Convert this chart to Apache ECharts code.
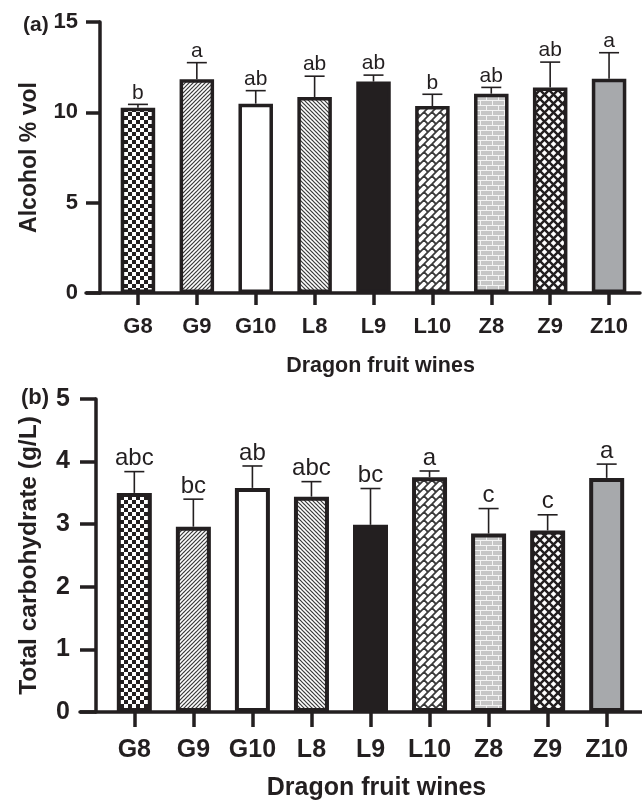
<!DOCTYPE html>
<html>
<head>
<meta charset="utf-8">
<script src="https://cdn.jsdelivr.net/npm/echarts@6/dist/echarts.min.js"></script>
<style>
html,body{margin:0;padding:0;background:#fff;}
#chart{width:642px;height:800px;}
</style>
</head>
<body>
<div id="chart"></div>
<script>
// ---- data ----
const categories = ['G8', 'G9', 'G10', 'L8', 'L9', 'L10', 'Z8', 'Z9', 'Z10'];
const alcoholMean = [10.26, 11.83, 10.48, 10.85, 11.70, 10.35, 11.03, 11.38, 11.86];
const alcoholUpper = [10.44, 12.75, 11.20, 12.00, 12.06, 11.00, 11.38, 12.78, 13.30];
const alcoholLetters = ['b', 'a', 'ab', 'ab', 'ab', 'b', 'ab', 'ab', 'a'];
const carbMean = [3.50, 2.96, 3.58, 3.44, 2.99, 3.75, 2.85, 2.90, 3.74];
const carbUpper = [3.84, 3.40, 3.93, 3.68, 3.57, 3.85, 3.25, 3.15, 3.96];
const carbLetters = ['abc', 'bc', 'ab', 'abc', 'bc', 'a', 'c', 'c', 'a'];
const alcoholAxis = {min: 0, max: 15, interval: 5};
const carbAxis = {min: 0, max: 5, interval: 1};
const xTitle = 'Dragon fruit wines';
const alcoholTitle = 'Alcohol % vol';
const carbTitle = 'Total carbohydrate (g/L)';

// ---- styles ----
const INK = '#231f20';
const FONT = '"Liberation Sans", Arial, Helvetica, sans-serif';

function tile(w, h, draw) {
  const c = document.createElement('canvas');
  c.width = w; c.height = h;
  const g = c.getContext('2d');
  g.fillStyle = '#ffffff';
  g.fillRect(0, 0, w, h);
  draw(g, w, h);
  return {image: c, repeat: 'repeat'};
}
function wrapLines(g, w, h, segs) {
  for (const dx of [-w, 0, w]) for (const dy of [-h, 0, h]) {
    for (const s of segs) {
      g.beginPath();
      g.moveTo(s[0] + dx, s[1] + dy);
      g.lineTo(s[2] + dx, s[3] + dy);
      g.stroke();
    }
  }
}
const patterns = [
  // G8 checkerboard
  tile(8, 8, (g) => { g.fillStyle = INK; g.fillRect(0, 0, 4, 4); g.fillRect(4, 4, 4, 4); }),
  // G9 forward diagonal
  tile(4, 4, (g, w, h) => { g.strokeStyle = '#3a3a3a'; g.lineWidth = 1.2; wrapLines(g, w, h, [[0, 4, 4, 0]]); }),
  // G10 plain
  '#ffffff',
  // L8 back diagonal
  tile(4, 4, (g, w, h) => { g.strokeStyle = '#3a3a3a'; g.lineWidth = 1.2; wrapLines(g, w, h, [[0, 0, 4, 4]]); }),
  // L9 solid black
  INK,
  // L10 diagonal bricks
  tile(8, 8, (g, w, h) => { g.strokeStyle = '#3a3a3a'; g.lineWidth = 1.8; wrapLines(g, w, h, [[0, 8, 8, 0], [0, 0, 4, 4]]); }),
  // Z8 grey bricks
  tile(12, 10, (g, w, h) => {
    g.fillStyle = '#c6c6c6'; g.fillRect(0, 0, w, h);
    g.strokeStyle = '#f4f4f4'; g.lineWidth = 1;
    wrapLines(g, w, h, [[0, 0.5, 12, 0.5], [0, 5.5, 12, 5.5], [0.5, 0, 0.5, 5], [6.5, 5, 6.5, 10]]);
  }),
  // Z9 diamond lattice
  tile(9, 9, (g, w, h) => { g.strokeStyle = INK; g.lineWidth = 2.4; wrapLines(g, w, h, [[0, 0, 9, 9], [0, 9, 9, 0]]); }),
  // Z10 grey
  '#a7a9ac'
];

function barData(vals) {
  return vals.map((v, i) => ({value: v, itemStyle: {color: patterns[i]}}));
}
function errData(vals, upper) {
  return vals.map((v, i) => [i, v, upper[i]]);
}
function errRender(letters, fontSize) {
  return function (params, api) {
    const i = api.value(0);
    const p0 = api.coord([i, api.value(1)]);
    const p1 = api.coord([i, api.value(2)]);
    const ls = {stroke: INK, lineWidth: 1.6};
    return {
      type: 'group',
      children: [
        {type: 'line', shape: {x1: p0[0], y1: p0[1], x2: p1[0], y2: p1[1]}, style: ls},
        {type: 'line', shape: {x1: p1[0] - 10, y1: p1[1], x2: p1[0] + 10, y2: p1[1]}, style: ls},
        {type: 'text', x: p1[0], y: p1[1] - 1,
          style: {text: letters[params.dataIndex], fill: INK, fontSize: fontSize, fontFamily: FONT,
            align: 'center', verticalAlign: 'bottom'}}
      ]
    };
  };
}

function frameX(grid) {
  return {gridIndex: grid, type: 'value', min: 0, max: 1,
    axisLine: {show: true, lineStyle: {color: INK, width: 3.5}},
    axisTick: {show: false}, axisLabel: {show: false}, splitLine: {show: false}};
}
function catX(grid, fs, nfs, tickLen, margin, nameGap, namePad) {
  return {gridIndex: grid, type: 'category', data: categories,
    axisLine: {show: false},
    axisTick: {show: true, alignWithLabel: true, length: tickLen, lineStyle: {color: INK, width: 3.5}},
    axisLabel: {color: INK, fontSize: fs, fontWeight: 'bold', fontFamily: FONT, margin: margin, interval: 0},
    name: xTitle, nameLocation: 'middle', nameGap: nameGap,
    nameTextStyle: {color: INK, fontSize: nfs, fontWeight: 'bold', fontFamily: FONT, padding: [0, 0, 0, namePad]}};
}
function valY(grid, ax, fs, nfs, offset, tickLen, margin, name, nameGap) {
  return {gridIndex: grid, type: 'value', min: ax.min, max: ax.max, interval: ax.interval, offset: offset,
    axisLine: {show: true, lineStyle: {color: INK, width: 3.5}},
    axisTick: {show: true, length: tickLen, lineStyle: {color: INK, width: 3.5}},
    axisLabel: {color: INK, fontSize: fs, fontWeight: 'bold', fontFamily: FONT, margin: margin},
    splitLine: {show: false},
    name: name, nameLocation: 'middle', nameGap: nameGap,
    nameTextStyle: {color: INK, fontSize: nfs, fontWeight: 'bold', fontFamily: FONT}};
}

const chart = echarts.init(document.getElementById('chart'));
chart.setOption({
  animation: false,
  backgroundColor: '#ffffff',
  title: [
    {text: '(a)', left: 18, top: 10, textStyle: {color: INK, fontSize: 21, fontWeight: 'bold', fontFamily: FONT}},
    {text: '(b)', left: 16, top: 382, textStyle: {color: INK, fontSize: 22, fontWeight: 'bold', fontFamily: FONT}}
  ],
  grid: [
    {left: 86, right: 2, top: 22, height: 271, outerBoundsMode: 'none', containLabel: false},
    {left: 108.5, width: 530, top: 22, height: 271, outerBoundsMode: 'none', containLabel: false},
    {left: 80, right: 0, top: 399, height: 313, outerBoundsMode: 'none', containLabel: false},
    {left: 104.8, width: 531.4, top: 399, height: 313, outerBoundsMode: 'none', containLabel: false}
  ],
  xAxis: [
    frameX(0),
    catX(1, 22, 21.5, 12, 23, 62, 14),
    frameX(2),
    catX(3, 25, 25, 15, 26, 64, 12)
  ],
  yAxis: [
    {gridIndex: 0, type: 'value', show: false, min: 0, max: 1},
    valY(1, alcoholAxis, 22, 23, 8.5, 14, 22, alcoholTitle, 59),
    {gridIndex: 2, type: 'value', show: false, min: 0, max: 1},
    valY(3, carbAxis, 25, 24.5, 8.8, 16, 26, carbTitle, 54)
  ],
  series: [
    {type: 'bar', xAxisIndex: 1, yAxisIndex: 1, barWidth: 34.5, data: barData(alcoholMean),
      itemStyle: {borderColor: INK, borderWidth: 3.5}},
    {type: 'custom', xAxisIndex: 1, yAxisIndex: 1, data: errData(alcoholMean, alcoholUpper),
      renderItem: errRender(alcoholLetters, 21), z: 5},
    {type: 'bar', xAxisIndex: 3, yAxisIndex: 3, barWidth: 35, data: barData(carbMean),
      itemStyle: {borderColor: INK, borderWidth: 4}},
    {type: 'custom', xAxisIndex: 3, yAxisIndex: 3, data: errData(carbMean, carbUpper),
      renderItem: errRender(carbLetters, 24), z: 5}
  ]
});
</script>
</body>
</html>
